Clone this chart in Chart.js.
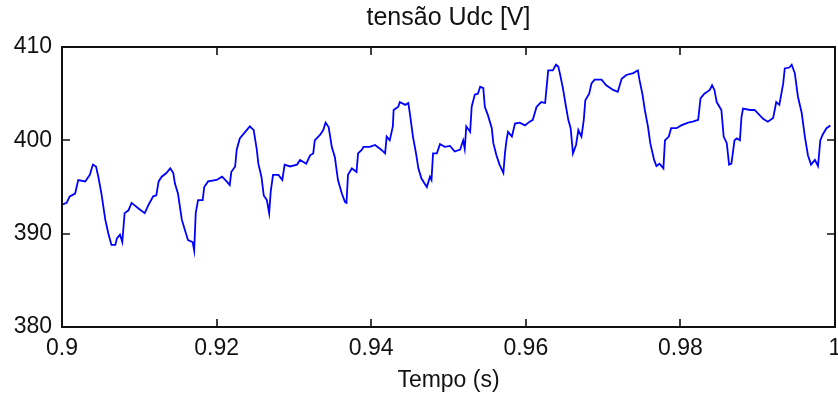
<!DOCTYPE html>
<html>
<head>
<meta charset="utf-8">
<script src="https://cdn.jsdelivr.net/npm/chart.js@4/dist/chart.umd.min.js"></script>
<style>
  html, body { margin: 0; padding: 0; background: #fff; }
  #wrap { width: 838px; height: 402px; }
</style>
</head>
<body>
<div id="wrap"><canvas id="c" width="838" height="402"></canvas></div>
<script>
// DC-link voltage Udc over time
const timeS = [
  0.9000, 0.9006, 0.9010, 0.9017, 0.9021, 0.9030, 0.9036, 0.9040, 0.9044, 0.9047,
  0.9051, 0.9056, 0.9060, 0.9064, 0.9069, 0.9071, 0.9075, 0.9078, 0.9081, 0.9086,
  0.9090, 0.9099, 0.9107, 0.9112, 0.9118, 0.9122, 0.9125, 0.9129, 0.9135, 0.9140,
  0.9144, 0.9146, 0.9150, 0.9155, 0.9159, 0.9163, 0.9169, 0.9171, 0.9173, 0.9176,
  0.9182, 0.9184, 0.9189, 0.9200, 0.9207, 0.9213, 0.9217, 0.9219, 0.9224, 0.9226,
  0.9230, 0.9237, 0.9243, 0.9248, 0.9252, 0.9254, 0.9258, 0.9261, 0.9265, 0.9268,
  0.9270, 0.9273, 0.9280, 0.9285, 0.9288, 0.9295, 0.9304, 0.9308, 0.9316, 0.9321,
  0.9325, 0.9327, 0.9334, 0.9338, 0.9341, 0.9345, 0.9349, 0.9353, 0.9357, 0.9362,
  0.9366, 0.9368, 0.9370, 0.9375, 0.9381, 0.9383, 0.9388, 0.9390, 0.9398, 0.9405,
  0.9413, 0.9418, 0.9420, 0.9424, 0.9428, 0.9429, 0.9435, 0.9437, 0.9444, 0.9448,
  0.9450, 0.9454, 0.9458, 0.9461, 0.9465, 0.9472, 0.9476, 0.9478, 0.9480, 0.9485,
  0.9489, 0.9495, 0.9502, 0.9508, 0.9515, 0.9519, 0.9521, 0.9523, 0.9528, 0.9530,
  0.9534, 0.9538, 0.9541, 0.9545, 0.9547, 0.9551, 0.9556, 0.9558, 0.9562, 0.9566,
  0.9571, 0.9573, 0.9575, 0.9577, 0.9582, 0.9586, 0.9592, 0.9599, 0.9605, 0.9609,
  0.9614, 0.9620, 0.9625, 0.9627, 0.9629, 0.9635, 0.9639, 0.9642, 0.9644, 0.9648,
  0.9652, 0.9655, 0.9658, 0.9661, 0.9665, 0.9668, 0.9672, 0.9675, 0.9677, 0.9682,
  0.9685, 0.9689, 0.9698, 0.9704, 0.9713, 0.9719, 0.9724, 0.9730, 0.9739, 0.9745,
  0.9747, 0.9751, 0.9754, 0.9758, 0.9761, 0.9766, 0.9769, 0.9773, 0.9778, 0.9780,
  0.9785, 0.9788, 0.9795, 0.9801, 0.9810, 0.9816, 0.9823, 0.9826, 0.9831, 0.9838,
  0.9841, 0.9844, 0.9847, 0.9853, 0.9856, 0.9860, 0.9863, 0.9866, 0.9870, 0.9873,
  0.9877, 0.9879, 0.9881, 0.9890, 0.9896, 0.9907, 0.9913, 0.9920, 0.9924, 0.9928,
  0.9933, 0.9935, 0.9941, 0.9944, 0.9948, 0.9952, 0.9957, 0.9961, 0.9965, 0.9969,
  0.9974, 0.9978, 0.9981, 0.9984, 0.9989, 0.9994
];
const udcVolts = [
  393.1, 393.3, 394.0, 394.3, 395.75, 395.6, 396.3, 397.4, 397.2, 396.1,
  394.3, 391.5, 390.0, 388.8, 388.8, 389.5, 389.9, 389.1, 392.2, 392.5,
  393.3, 392.7, 392.2, 393.1, 394.0, 394.1, 395.6, 396.1, 396.5, 397.0,
  396.5, 395.4, 394.3, 391.5, 390.4, 389.3, 389.1, 388.2, 392.2, 393.6,
  393.6, 395.0, 395.6, 395.75, 396.1, 395.6, 395.2, 396.6, 397.2, 399.0,
  400.2, 400.9, 401.5, 401.1, 399.0, 397.5, 396.1, 394.1, 393.6, 392.2,
  394.5, 396.3, 396.3, 395.75, 397.4, 397.2, 397.4, 397.9, 397.5, 398.4,
  398.6, 400.0, 400.6, 401.1, 401.9, 401.4, 399.3, 398.2, 395.75, 394.3,
  393.4, 393.3, 396.3, 397.0, 396.6, 398.6, 399.0, 399.3, 399.3, 399.5,
  399.0, 398.6, 400.4, 400.0, 401.5, 403.25, 403.6, 404.1, 403.8, 404.0,
  402.9, 400.4, 398.6, 397.0, 395.9, 395.0, 396.1, 395.75, 398.6, 398.6,
  399.6, 399.3, 399.4, 398.8, 399.0, 400.0, 399.1, 401.5, 400.9, 403.6,
  404.9, 405.0, 405.75, 405.6, 403.6, 402.7, 401.3, 399.7, 398.4, 397.4,
  396.5, 398.6, 400.0, 400.9, 400.4, 401.8, 401.9, 401.6, 402.0, 402.2,
  403.6, 404.1, 404.0, 405.75, 407.5, 407.5, 408.1, 407.9, 407.2, 405.6,
  403.6, 402.2, 401.3, 398.6, 399.5, 401.1, 400.4, 402.2, 404.3, 405.0,
  406.1, 406.5, 406.5, 405.9, 405.4, 405.2, 406.6, 407.0, 407.2, 407.5,
  406.5, 404.9, 403.25, 401.5, 399.7, 397.9, 397.25, 397.5, 397.0, 400.0,
  400.4, 401.3, 401.3, 401.6, 401.9, 402.0, 402.2, 404.5, 405.0, 405.4,
  405.9, 405.4, 404.1, 403.25, 400.4, 399.7, 397.4, 397.5, 400.0, 400.2,
  400.0, 402.5, 403.4, 403.25, 403.25, 402.3, 402.0, 402.4, 404.1, 403.8,
  406.1, 407.7, 407.8, 408.1, 407.2, 404.7, 402.9, 400.4, 398.4, 397.4,
  397.9, 397.25, 400.0, 400.6, 401.3, 401.6
];

// Axis ranges and tick spacing
const xRange = [0.9, 1.0];
const xStep = 0.02;
const yRange = [380, 410];
const yStep = 10;

const titleText = 'tensão Udc [V]';
const xTitleText = 'Tempo (s)';

const points = timeS.map((t, i) => ({ x: t, y: udcVolts[i] }));

const FONT = 'Liberation Sans, Arial, Helvetica, sans-serif';
Chart.defaults.font.family = FONT;
Chart.defaults.color = '#111';

// Box around the axes with inward tick marks on all four sides
const boxAndTicks = {
  id: 'boxAndTicks',
  afterDraw(chart) {
    const { ctx, chartArea: a, scales: { x, y } } = chart;
    const len = 8;
    ctx.save();
    ctx.strokeStyle = '#111';
    ctx.lineWidth = 1.6;
    ctx.beginPath();
    x.ticks.forEach(tk => {
      const px = Math.round(x.getPixelForValue(tk.value));
      ctx.moveTo(px, a.bottom); ctx.lineTo(px, a.bottom - len);
      ctx.moveTo(px, a.top); ctx.lineTo(px, a.top + len);
    });
    y.ticks.forEach(tk => {
      const py = Math.round(y.getPixelForValue(tk.value));
      ctx.moveTo(a.left, py); ctx.lineTo(a.left + len, py);
      ctx.moveTo(a.right, py); ctx.lineTo(a.right - len, py);
    });
    ctx.stroke();
    ctx.lineWidth = 2;
    ctx.strokeRect(a.left, a.top, a.right - a.left, a.bottom - a.top);
    ctx.restore();
  }
};

new Chart(document.getElementById('c'), {
  type: 'line',
  data: {
    datasets: [{
      data: points,
      borderColor: '#0000ff',
      borderWidth: 1.8,
      pointRadius: 0,
      tension: 0,
      fill: false
    }]
  },
  options: {
    responsive: false,
    animation: false,
    layout: { padding: { left: 0, right: 3, top: 0, bottom: 0 } },
    plugins: {
      legend: { display: false },
      tooltip: { enabled: false },
      title: {
        display: true,
        text: titleText,
        fullSize: false,
        color: '#111',
        font: { family: FONT, size: 25, weight: 'normal' },
        padding: { top: 3.5, bottom: 13.5 }
      }
    },
    scales: {
      x: {
        type: 'linear',
        min: xRange[0],
        max: xRange[1],
        afterFit(s) { s.height = 75; s.paddingLeft = 0; s.paddingRight = 0; },
        ticks: {
          stepSize: xStep,
          padding: 8,
          maxRotation: 0,
          color: '#111',
          font: { family: FONT, size: 23 },
          callback: v => String(+v.toFixed(2))
        },
        grid: { display: false, drawTicks: false },
        border: { display: false },
        title: {
          display: true,
          text: xTitleText,
          color: '#111',
          font: { family: FONT, size: 23 },
          padding: { top: 0, bottom: 8 }
        }
      },
      y: {
        min: yRange[0],
        max: yRange[1],
        afterFit(s) { s.width = 62; },
        ticks: {
          stepSize: yStep,
          padding: 10,
          color: '#111',
          font: { family: FONT, size: 23 }
        },
        grid: { display: false, drawTicks: false },
        border: { display: false }
      }
    }
  },
  plugins: [boxAndTicks]
});
</script>
</body>
</html>
